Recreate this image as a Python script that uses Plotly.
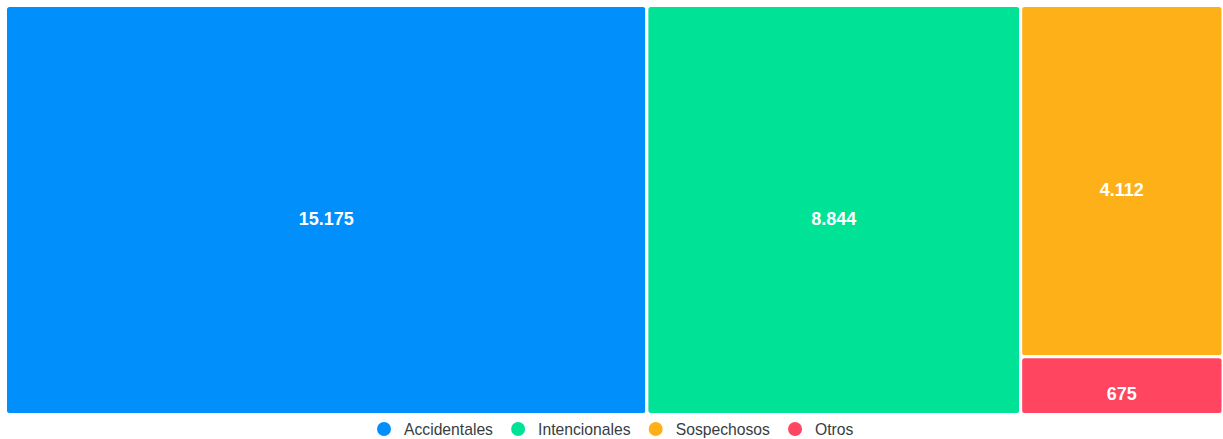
import plotly.graph_objects as go

categories = ["Accidentales", "Intencionales", "Sospechosos", "Otros"]
values = [15175, 8844, 4112, 675]
colors = ["#008FFB", "#00E396", "#FEB019", "#FF4560"]

W, H = 1223, 439

fig = go.Figure()
fig.add_trace(go.Treemap(
    labels=categories,
    parents=[""] * len(categories),
    values=values,
    sort=True,
    marker=dict(colors=colors, line=dict(width=3, color="white"), cornerradius=4,
                pad=dict(t=0, l=0, r=0, b=0)),
    texttemplate="<span style='font-size:11px'>&nbsp;</span><br><b>%{value:,}</b>",
    textposition="middle center",
    textfont=dict(family="Liberation Sans, Arial, sans-serif", size=18, color="white"),
    hoverinfo="label+value",
    tiling=dict(packing="squarify", pad=0),
    pathbar=dict(visible=False),
    domain=dict(x=[5.5 / W, 1.0], y=[1 - 414.5 / H, 1 - 5.5 / H]),
))

for c, col in zip(categories, colors):
    fig.add_trace(go.Scatter(
        x=[None], y=[None], mode="markers", name=c,
        marker=dict(color=col, size=14, symbol="circle"),
        showlegend=True,
    ))

fig.update_layout(
    width=W, height=H,
    margin=dict(l=0, r=0, t=0, b=0, pad=0, autoexpand=False),
    paper_bgcolor="white", plot_bgcolor="white",
    separators=",.",
    xaxis=dict(visible=False), yaxis=dict(visible=False),
    legend=dict(orientation="h", x=0.5, xanchor="center", y=0.022, yanchor="middle",
                font=dict(family="Liberation Sans, Arial, sans-serif", size=15.7, color="#373d3f"),
                itemwidth=30, tracegroupgap=0, bgcolor="rgba(0,0,0,0)"),
)

fig.write_html("out.html",
               config={"displayModeBar": False},
               post_script="document.body.style.margin='0';document.body.style.overflow='hidden';")
